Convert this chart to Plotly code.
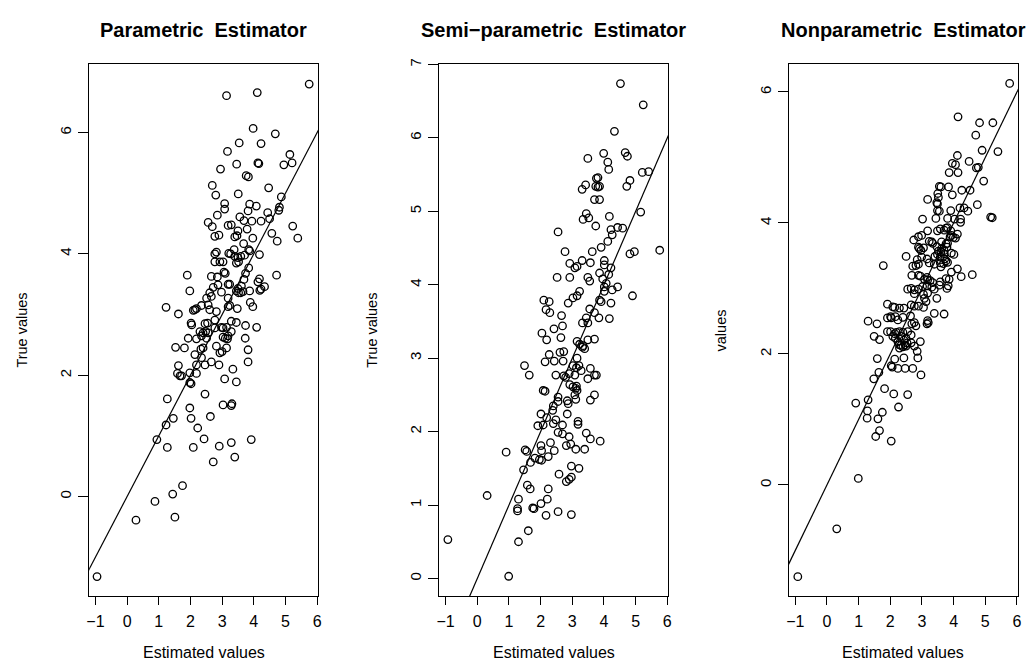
import plotly.graph_objects as go

# ---------------- data ----------------
titles = ["Parametric\u00a0 Estimator", "Semi\u2212parametric\u00a0 Estimator", "Nonparametric\u00a0 Estimator"]
x_label = "Estimated values"
y_labels = ["True values", "True values", "values"]
x_ticks = [-1, 0, 1, 2, 3, 4, 5, 6]
y_ticks_1 = [0, 2, 4, 6]
y_ticks_2 = [0, 1, 2, 3, 4, 5, 6, 7]
y_ticks_3 = [0, 2, 4, 6]
ref_intercept = 0.0
ref_slope = 1.0

p1_x = [5.75, 3.14, 4.11, 3.98, 4.68, 3.54, 4.23, 3.17, 5.14, 3.46, 4.13, 4.16, 4.95, 5.21, 2.95, 3.76, 3.83,
        2.69, 2.80, 3.51, 4.47, 4.87, 3.08, 3.08, 3.82, 4.08, 3.87, 4.81, 4.79, 4.44, 2.56, 2.85, 3.56, 3.69,
        3.94, 4.23, 2.69, 3.19, 3.29, 5.23, 4.50, 4.57, 4.74, 5.39, 3.50, 3.79, 2.77, 2.90, 3.40, 3.47, 3.97,
        3.68, 3.38, 3.84, 3.87, 2.77, 2.82, 3.21, 3.27, 3.40, 3.50, 3.59, 3.71, 4.18, 2.93, 3.03, 2.77, 3.52,
        3.45, 3.84, 3.74, 3.06, 3.10, 2.66, 2.85, 1.90, 4.18, 4.13, 4.72, 3.69, 3.24, 3.19, 2.87, 2.72, 3.61,
        3.87, 1.98, 2.98, 2.61, 2.66, 2.51, 3.50, 3.52, 3.66, 3.45, 3.59, 4.23, 4.34, 4.19, 3.19, 3.89, 3.97,
        1.23, 1.62, 2.09, 2.19, 2.14, 2.35, 2.56, 2.61, 2.82, 3.19, 3.24, 3.48, 2.77, 2.02, 2.04, 2.46, 2.54,
        3.29, 3.45, 3.03, 2.98, 3.14, 3.74, 4.09, 2.30, 2.40, 2.48, 2.56, 2.77, 1.93, 2.19, 2.35, 2.51, 3.03,
        3.10, 3.17, 3.19, 3.29, 3.73, 1.53, 1.81, 2.33, 2.40, 2.82, 2.93, 3.00, 3.14, 3.82, 2.14, 2.35, 2.19,
        2.46, 2.66, 2.90, 3.82, 1.62, 1.59, 1.67, 1.72, 1.98, 2.19, 2.02, 1.98, 3.08, 3.45, 3.34, 2.46, 1.27,
        1.98, 3.03, 3.29, 3.31, 1.46, 2.02, 2.63, 1.23, 0.94, 1.27, 2.09, 2.23, 2.43, 2.91, 3.29, 3.92, 3.40,
        2.72, 1.75, 1.44, 0.88, 0.28, 1.51, -0.95]
p1_y = [6.80, 6.61, 6.66, 6.07, 5.98, 5.83, 5.82, 5.69, 5.64, 5.48, 5.50, 5.49, 5.47, 5.50, 5.40, 5.29, 5.27,
        5.13, 4.97, 4.99, 5.09, 4.94, 4.83, 4.74, 4.71, 4.79, 4.82, 4.77, 4.72, 4.68, 4.52, 4.64, 4.61, 4.55,
        4.54, 4.54, 4.45, 4.47, 4.48, 4.46, 4.58, 4.34, 4.21, 4.26, 4.38, 4.41, 4.29, 4.31, 4.28, 4.30, 4.26,
        4.17, 4.07, 4.07, 4.05, 4.00, 4.03, 4.01, 4.00, 3.96, 3.94, 3.96, 3.98, 3.99, 3.87, 3.87, 3.87, 3.87,
        3.85, 3.77, 3.68, 3.70, 3.68, 3.63, 3.62, 3.65, 3.59, 3.54, 3.65, 3.58, 3.50, 3.50, 3.49, 3.45, 3.47,
        3.39, 3.39, 3.37, 3.36, 3.30, 3.27, 3.43, 3.36, 3.38, 3.39, 3.36, 3.42, 3.46, 3.40, 3.27, 3.20, 3.13,
        3.12, 3.01, 3.07, 3.10, 3.08, 3.15, 3.16, 3.08, 3.05, 3.13, 3.15, 3.10, 2.91, 2.86, 2.83, 2.85, 2.86,
        2.89, 2.87, 2.78, 2.79, 2.79, 2.82, 2.79, 2.72, 2.70, 2.72, 2.70, 2.78, 2.61, 2.60, 2.65, 2.61, 2.63,
        2.61, 2.60, 2.65, 2.72, 2.61, 2.46, 2.45, 2.43, 2.45, 2.48, 2.37, 2.39, 2.45, 2.42, 2.34, 2.29, 2.17,
        2.17, 2.22, 2.17, 2.22, 2.16, 2.03, 1.99, 1.99, 2.04, 2.03, 1.86, 1.88, 1.94, 1.89, 2.10, 1.69, 1.61,
        1.46, 1.51, 1.50, 1.53, 1.29, 1.29, 1.32, 1.18, 0.94, 0.81, 0.81, 1.13, 0.95, 0.83, 0.89, 0.94, 0.65,
        0.57, 0.18, 0.04, -0.08, -0.39, -0.34, -1.32]

p2_x = [4.52, 5.24, 4.33, 3.49, 3.99, 4.12, 4.15, 4.67, 4.74, 3.42, 3.31, 3.76, 3.81, 3.74, 3.81, 3.86, 4.72,
        4.82, 5.21, 5.41, 3.70, 3.86, 3.34, 3.44, 3.52, 4.17, 5.16, 3.74, 4.22, 4.43, 4.59, 4.26, 4.12, 2.55,
        2.77, 3.91, 3.63, 4.96, 4.82, 5.76, 2.92, 3.31, 3.57, 4.01, 4.01, 3.08, 3.15, 4.22, 4.15, 3.86, 2.52,
        2.92, 3.49, 3.55, 3.96, 4.07, 4.01, 4.43, 4.26, 4.01, 4.90, 3.23, 3.15, 3.02, 2.87, 2.10, 2.27, 4.22,
        3.91, 3.86, 2.17, 2.29, 2.66, 4.17, 3.84, 3.55, 3.70, 3.44, 3.49, 3.32, 2.69, 2.42, 2.04, 2.19, 2.64,
        3.15, 3.23, 3.34, 3.39, 3.32, 3.70, 3.49, 2.27, 2.61, 2.73, 2.14, 2.43, 2.71, 3.15, 3.02, 3.21, 3.13,
        3.28, 3.57, 3.70, 3.76, 1.49, 1.64, 2.48, 2.73, 2.79, 2.90, 3.08, 3.49, 2.92, 3.02, 3.13, 3.15, 3.11,
        2.08, 2.14, 2.55, 3.08, 3.11, 3.70, 3.57, 2.84, 2.87, 2.40, 2.55, 2.01, 2.38, 2.84, 2.19, 2.48, 3.18,
        1.91, 2.08, 2.40, 2.69, 3.18, 3.44, 3.57, 3.88, 2.55, 2.69, 2.90, 2.31, 2.01, 2.81, 2.95, 3.11, 3.39,
        2.43, 2.03, 0.91, 1.51, 1.56, 1.82, 1.96, 2.03, 2.24, 1.68, 1.46, 2.97, 3.21, 2.58, 2.97, 2.81, 2.90,
        1.58, 1.67, 2.24, 1.30, 1.27, 1.27, 1.75, 1.79, 2.01, 2.21, 0.31, 2.55, 2.17, 2.97, 1.61, 1.30, -0.93,
        0.99]
p2_y = [6.74, 6.45, 6.09, 5.72, 5.79, 5.67, 5.57, 5.80, 5.75, 5.36, 5.30, 5.45, 5.46, 5.34, 5.33, 5.34, 5.34,
        5.42, 5.53, 5.54, 5.16, 5.16, 4.89, 4.97, 4.91, 4.93, 4.99, 4.80, 4.75, 4.78, 4.77, 4.68, 4.59, 4.72,
        4.45, 4.51, 4.45, 4.45, 4.42, 4.47, 4.29, 4.33, 4.30, 4.33, 4.27, 4.23, 4.25, 4.23, 4.14, 4.16, 4.10,
        4.10, 4.10, 4.05, 4.08, 4.02, 3.97, 3.97, 3.93, 3.91, 3.85, 3.91, 3.85, 3.82, 3.75, 3.79, 3.77, 3.75,
        3.77, 3.79, 3.66, 3.62, 3.58, 3.54, 3.55, 3.67, 3.62, 3.55, 3.48, 3.48, 3.44, 3.40, 3.34, 3.25, 3.28,
        3.23, 3.19, 3.17, 3.13, 3.15, 3.26, 3.25, 3.05, 3.08, 3.09, 2.95, 2.96, 2.96, 3.00, 2.90, 2.90, 2.87,
        2.83, 2.86, 2.77, 2.77, 2.90, 2.77, 2.77, 2.76, 2.74, 2.79, 2.77, 2.72, 2.64, 2.61, 2.62, 2.56, 2.59,
        2.56, 2.55, 2.47, 2.50, 2.44, 2.50, 2.43, 2.42, 2.38, 2.35, 2.41, 2.24, 2.29, 2.24, 2.19, 2.16, 2.14,
        2.08, 2.09, 2.11, 2.09, 2.10, 1.98, 1.90, 1.87, 1.99, 1.97, 1.93, 1.85, 1.81, 1.81, 1.83, 1.76, 1.76,
        1.74, 1.74, 1.72, 1.75, 1.73, 1.64, 1.62, 1.61, 1.66, 1.58, 1.48, 1.53, 1.50, 1.42, 1.38, 1.32, 1.35,
        1.27, 1.22, 1.22, 1.08, 0.92, 0.95, 0.96, 0.95, 1.02, 1.08, 1.13, 0.91, 0.86, 0.87, 0.65, 0.50, 0.53,
        0.03]

p3_x = [5.77, 4.14, 4.82, 5.24, 4.70, 4.90, 5.40, 4.12, 4.49, 3.96, 4.06, 4.78, 4.72, 3.86, 4.14, 4.95, 3.55,
        3.60, 3.84, 4.26, 4.52, 3.50, 3.52, 3.96, 3.18, 3.47, 4.75, 3.49, 3.91, 4.20, 4.33, 4.45, 3.49, 3.55,
        3.02, 3.44, 3.81, 4.03, 4.22, 4.22, 5.17, 5.22, 3.18, 3.49, 3.58, 3.70, 3.76, 3.81, 4.12, 3.93, 3.89,
        3.99, 4.06, 3.91, 2.74, 2.89, 2.99, 3.23, 3.31, 3.34, 3.62, 3.76, 3.81, 2.89, 2.92, 2.97, 3.05, 3.47,
        3.62, 3.79, 3.70, 3.52, 3.70, 4.01, 3.93, 3.60, 3.49, 2.50, 2.85, 2.99, 3.16, 3.41, 3.58, 3.72, 3.76,
        3.68, 3.58, 1.78, 2.71, 2.81, 2.89, 3.23, 3.39, 3.60, 3.81, 4.12, 3.93, 4.24, 4.59, 2.68, 2.89, 2.95,
        3.08, 3.16, 3.18, 3.26, 3.34, 3.58, 3.76, 3.86, 2.55, 2.66, 2.76, 2.89, 3.02, 3.16, 3.31, 3.39, 3.55,
        3.79, 3.83, 2.76, 3.05, 3.18, 3.08, 3.47, 3.13, 1.91, 2.08, 2.14, 2.29, 2.43, 2.66, 2.76, 2.89, 3.05,
        3.39, 3.70, 1.30, 1.58, 1.91, 2.01, 2.03, 2.16, 2.24, 2.40, 2.64, 2.68, 2.76, 2.81, 3.18, 3.20, 3.16,
        1.91, 2.01, 2.14, 2.19, 2.29, 2.40, 2.55, 1.49, 1.66, 2.08, 2.16, 2.34, 2.43, 2.50, 2.66, 2.24, 2.29,
        2.34, 2.47, 2.53, 2.66, 2.95, 2.29, 2.40, 2.50, 2.76, 2.85, 2.87, 1.59, 2.14, 2.43, 2.03, 2.06, 2.24,
        2.47, 2.71, 2.97, 1.64, 1.48, 1.82, 2.11, 2.55, 2.26, 0.91, 1.30, 1.28, 1.75, 1.27, 1.61, 1.66, 1.54,
        2.03, 0.99, 0.31, -0.92]
p3_y = [6.13, 5.62, 5.53, 5.53, 5.34, 5.11, 5.09, 5.03, 4.94, 4.91, 4.89, 4.85, 4.84, 4.77, 4.77, 4.64, 4.56,
        4.55, 4.55, 4.50, 4.50, 4.45, 4.39, 4.43, 4.36, 4.31, 4.28, 4.29, 4.19, 4.23, 4.23, 4.18, 4.19, 4.18,
        4.06, 4.07, 4.07, 4.06, 4.06, 4.01, 4.09, 4.08, 3.88, 3.88, 3.91, 3.89, 3.92, 3.93, 3.83, 3.81, 3.79,
        3.78, 3.77, 3.88, 3.74, 3.79, 3.81, 3.72, 3.71, 3.69, 3.71, 3.68, 3.69, 3.63, 3.61, 3.58, 3.62, 3.64,
        3.61, 3.63, 3.58, 3.57, 3.53, 3.52, 3.54, 3.56, 3.52, 3.49, 3.44, 3.48, 3.45, 3.49, 3.48, 3.45, 3.42,
        3.38, 3.39, 3.35, 3.34, 3.35, 3.37, 3.39, 3.37, 3.33, 3.40, 3.30, 3.25, 3.18, 3.21, 3.20, 3.20, 3.19,
        3.14, 3.17, 3.13, 3.12, 3.09, 3.10, 3.15, 3.14, 2.99, 3.00, 2.98, 2.99, 3.03, 3.04, 3.02, 2.99, 3.05,
        3.00, 3.04, 2.92, 2.91, 2.93, 2.85, 2.85, 2.80, 2.76, 2.72, 2.71, 2.70, 2.70, 2.75, 2.73, 2.73, 2.71,
        2.62, 2.61, 2.50, 2.46, 2.55, 2.57, 2.55, 2.57, 2.52, 2.56, 2.58, 2.46, 2.48, 2.43, 2.51, 2.48, 2.46,
        2.34, 2.34, 2.31, 2.33, 2.34, 2.33, 2.34, 2.27, 2.22, 2.27, 2.24, 2.27, 2.21, 2.24, 2.29, 2.19, 2.14,
        2.13, 2.14, 2.17, 2.17, 2.19, 2.09, 2.11, 2.12, 2.12, 2.04, 1.94, 1.93, 1.92, 1.94, 1.82, 1.80, 1.78,
        1.78, 1.78, 1.68, 1.72, 1.62, 1.47, 1.39, 1.38, 1.19, 1.25, 1.30, 1.13, 1.11, 1.02, 1.01, 0.83, 0.74,
        0.67, 0.10, -0.67, -1.40]

# ---------------- layout (pixel geometry of the reference) ----------------
W, H = 1034, 663
plot_left = [86.7, 439.3, 791.3]
plot_width = 230.5
plot_top, plot_bottom = 59.0, 595.7
x_range = [-1.2, 6.03]
y_ranges = [[-1.645, 7.124], [-0.243, 7.0], [-1.70, 6.42]]
y_tick_sets = [y_ticks_1, y_ticks_2, y_ticks_3]
panels = [(p1_x, p1_y), (p2_x, p2_y), (p3_x, p3_y)]

FONT = "Liberation Sans, Arial, Helvetica, sans-serif"
fig = go.Figure()

ydom = [1 - plot_bottom / H, 1 - plot_top / H]
annotations = []
for i, (px, py) in enumerate(panels):
    sfx = "" if i == 0 else str(i + 1)
    xa, ya = "x" + sfx, "y" + sfx
    fig.add_trace(go.Scatter(
        x=px, y=py, mode="markers", xaxis=xa, yaxis=ya, showlegend=False, hoverinfo="skip",
        marker=dict(symbol="circle-open", size=7.5, color="black", line=dict(width=1.3, color="black")),
    ))
    lx = [x_range[0] - 1, x_range[1] + 1]
    fig.add_trace(go.Scatter(
        x=lx, y=[ref_intercept + ref_slope * v for v in lx], mode="lines", xaxis=xa, yaxis=ya,
        showlegend=False, hoverinfo="skip", line=dict(color="black", width=1.2),
    ))
    x0 = plot_left[i] / W
    x1 = (plot_left[i] + plot_width) / W
    common = dict(showline=True, mirror=True, linecolor="black", linewidth=1, ticks="outside",
                  tickcolor="black", tickwidth=1, showgrid=False, zeroline=False)
    fig.update_layout(**{
        "xaxis" + sfx: dict(domain=[x0, x1], range=x_range, anchor=ya, tickmode="array",
                            tickvals=x_ticks, ticklen=8, ticklabelstandoff=2,
                            tickfont=dict(family=FONT, size=16, color="black"), **common),
        "yaxis" + sfx: dict(domain=ydom, range=y_ranges[i], anchor=xa, tickmode="array",
                            tickvals=y_tick_sets[i], ticklen=10, tickangle=-90, ticklabelstandoff=1,
                            tickfont=dict(family=FONT, size=15, color="black"), **common),
    })
    cx = (x0 + x1) / 2
    annotations.append(dict(text="<b>" + titles[i] + "</b>", x=cx, y=1 - 24 / H, xref="paper", yref="paper",
                            xanchor="center", yanchor="middle", showarrow=False,
                            font=dict(family=FONT, size=20, color="black")))
    annotations.append(dict(text=x_label, x=cx, y=1 - 652 / H, xref="paper", yref="paper",
                            xanchor="center", yanchor="middle", showarrow=False,
                            font=dict(family=FONT, size=16, color="black")))
    annotations.append(dict(text=y_labels[i], x=(plot_left[i] - 68) / W, y=1 - 327 / H,
                            xref="paper", yref="paper", xanchor="center", yanchor="middle",
                            textangle=-90, showarrow=False,
                            font=dict(family=FONT, size=14.5, color="black")))

fig.update_layout(width=W, height=H, margin=dict(l=0, r=0, t=0, b=0), paper_bgcolor="white",
                  plot_bgcolor="white", annotations=annotations)
fig.write_html("out.html")
